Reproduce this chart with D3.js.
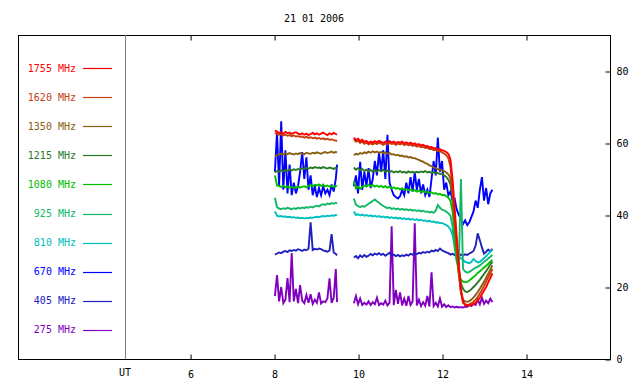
<!DOCTYPE html>
<html>
<head>
<meta charset="utf-8">
<script src="https://cdn.jsdelivr.net/npm/d3@7"></script>
<style>
  html, body { margin: 0; padding: 0; background: #fff; }
  svg { display: block; }
  text { font-family: "DejaVu Sans Mono", "Liberation Mono", monospace; font-size: 10px; }
</style>
</head>
<body>
<svg id="chart" width="640" height="384"></svg>
<script>
// ---------------- DATA ----------------
const title = "21 01 2006";
const xTicks = [6, 8, 10, 12, 14];
const yTicks = [0, 20, 40, 60, 80];
const freqs = ["1755", "1620", "1350", "1215", "1080", "925", "810", "670", "405", "275"];
const colors = ["#ff0000", "#c44010", "#886010", "#287828", "#00c000", "#10b868", "#00c0c0", "#0000ff", "#2020c0", "#8000c0"];

const times1 = [8.02,8.07,8.12,8.17,8.22,8.27,8.32,8.37,8.42,8.47,8.52,8.57,8.62,8.67,8.72,8.77,8.82,8.87,8.92,8.97,9.02,9.07,9.12,9.17,9.22,9.27,9.32,9.37,9.42,9.47,9.50];
const times2 = [9.90,9.95,10.00,10.05,10.10,10.15,10.20,10.25,10.30,10.35,10.40,10.45,10.50,10.55,10.60,10.65,10.70,10.75,10.80,10.85,10.90,10.95,11.00,11.05,11.10,11.15,11.20,11.25,11.30,11.35,11.40,11.45,11.50,11.55,11.60,11.65,11.70,11.75,11.80,11.85,11.90,11.95,12.00,12.05,12.10,12.15,12.20,12.25,12.30,12.35,12.40,12.45,12.50,12.55,12.60,12.65,12.70,12.75,12.80,12.85,12.90,12.95,13.00,13.05,13.10,13.15,13.20];

const f1755a = [63.5,63.2,62.8,63.0,62.6,63.1,62.7,62.9,62.5,62.8,63.0,62.6,62.4,62.7,62.3,62.6,62.2,62.5,62.8,62.4,62.7,62.3,62.6,62.9,62.5,62.2,62.7,62.4,62.8,62.5,62.3];
const f1755b = [61.5,60.8,61.2,60.5,60.9,60.3,60.6,60.0,60.4,60.1,60.5,60.2,60.6,60.3,60.0,60.4,60.1,60.5,60.2,60.4,60.0,60.3,60.1,60.4,59.9,60.2,59.8,60.1,59.7,59.9,59.5,59.7,59.3,59.5,59.1,59.2,58.8,58.9,58.5,58.6,58.2,58.3,58.0,57.8,57.5,57.0,55.5,50.0,42.0,34.0,26.0,19.5,16.0,15.0,14.8,14.9,15.0,15.3,15.6,16.2,17.0,18.0,19.0,20.0,21.3,22.5,23.8];

const f1620a = [62.8,62.5,62.3,62.4,62.1,62.3,62.0,62.2,61.9,62.1,61.8,61.9,61.7,61.8,61.5,61.7,61.4,61.6,61.3,61.5,61.2,61.4,61.1,61.3,61.0,61.2,60.9,61.0,60.8,60.7,60.5];
const f1620b = [61.0,60.4,60.6,60.0,60.4,59.8,60.1,59.6,59.9,59.6,60.0,59.7,60.1,59.8,59.5,59.9,59.6,60.0,59.7,59.9,59.5,59.8,59.6,59.9,59.4,59.7,59.3,59.6,59.2,59.4,59.0,59.2,58.8,59.0,58.6,58.7,58.3,58.4,58.0,58.1,57.7,57.8,57.4,57.1,56.6,55.8,53.5,47.0,39.0,31.0,24.0,18.5,15.6,15.2,15.0,15.2,15.5,15.9,16.5,17.2,18.2,19.2,20.3,21.5,22.7,23.8,25.0];

const f1350a = [56.3,56.6,56.9,57.0,56.8,57.1,56.9,57.2,57.0,56.8,57.1,56.9,57.2,57.0,56.9,57.3,57.1,57.0,57.3,57.1,57.4,57.2,57.0,57.3,57.5,57.2,57.4,57.6,57.3,57.5,57.4];
const f1350b = [56.6,57.0,56.8,57.2,57.0,57.4,57.2,57.6,57.3,57.7,57.4,57.6,57.3,57.5,57.2,57.4,57.0,57.2,56.8,56.9,56.6,56.7,56.4,56.5,56.2,56.3,56.0,56.1,55.8,55.8,55.5,55.3,55.0,54.8,54.4,54.2,53.8,53.6,53.2,53.0,52.7,52.6,52.4,52.2,51.8,51.3,50.2,46.0,39.0,31.0,24.0,18.5,16.5,16.0,15.9,16.1,16.5,17.1,17.8,18.6,19.5,20.5,21.5,22.6,23.7,24.8,26.0];

const f1215a = [51.8,52.2,52.0,52.4,52.1,52.5,52.3,52.6,52.4,52.7,52.5,52.8,52.6,53.0,52.8,53.1,52.9,53.2,53.0,53.3,53.1,53.2,53.0,53.3,53.1,52.9,53.2,53.0,52.8,53.1,52.9];
const f1215b = [53.2,52.6,53.0,52.4,52.8,52.2,52.6,52.1,52.5,52.0,52.4,52.1,52.5,52.2,52.6,52.0,52.3,51.9,52.2,51.8,52.1,51.9,52.2,51.8,52.0,51.7,52.1,51.8,52.0,51.7,52.0,51.8,52.1,51.9,52.2,51.8,52.0,51.7,51.9,51.6,51.7,51.4,51.5,51.0,50.6,49.8,48.5,45.0,38.0,31.0,25.0,21.0,19.5,18.8,18.6,18.9,19.4,20.0,20.6,21.3,22.0,22.8,23.6,24.4,25.3,26.2,27.0];

const f1080a = [51.0,48.2,48.0,47.8,48.1,47.7,47.9,47.6,47.8,47.5,47.7,47.9,47.6,47.8,48.0,47.7,48.1,48.3,48.0,48.4,48.2,48.5,48.1,48.3,48.0,48.2,47.9,48.1,47.8,48.0,48.2];
const f1080b = [49.5,47.4,47.9,47.3,47.8,48.2,47.9,48.4,48.0,48.3,47.9,48.2,47.8,48.1,47.7,48.0,47.6,47.9,47.4,47.7,47.3,47.5,47.1,47.4,47.0,47.2,46.9,47.1,46.7,46.9,46.5,46.8,46.4,46.6,46.3,46.5,46.1,46.3,45.9,46.1,45.7,45.9,45.5,45.6,45.2,44.8,44.0,41.0,35.0,28.0,23.5,22.0,21.5,21.3,21.4,21.8,22.3,22.8,23.3,23.9,24.4,24.9,25.4,25.9,26.4,27.0,27.5];

const f925a = [44.8,42.2,41.8,41.6,41.9,41.7,42.0,41.8,41.6,41.9,41.7,42.0,41.8,42.1,41.9,42.2,42.0,42.3,42.1,42.4,42.6,42.4,42.8,43.0,42.8,43.2,43.0,43.3,43.1,43.4,43.2];
const f925b = [44.6,42.8,42.5,42.2,42.5,42.3,42.7,43.1,43.5,43.9,44.3,43.8,43.4,42.9,42.5,42.2,41.9,42.1,41.7,41.9,41.6,41.8,41.5,41.7,41.4,41.6,41.3,41.5,41.2,41.4,41.1,41.3,41.0,41.2,40.9,41.0,40.7,40.9,40.6,41.2,42.8,42.0,41.5,41.3,40.9,40.5,39.8,37.0,31.0,27.0,25.5,50.0,25.0,24.3,24.0,24.2,24.6,25.0,25.4,25.6,26.0,26.5,27.0,27.4,27.9,28.4,28.9];

const f810a = [41.0,39.8,39.6,39.7,39.5,39.6,39.4,39.5,39.3,39.4,39.2,39.3,39.1,39.2,39.0,39.2,39.1,39.3,39.2,39.4,39.5,39.4,39.6,39.7,39.6,39.8,39.7,39.9,39.8,40.0,39.9];
const f810b = [41.0,40.0,40.2,39.9,40.1,39.8,40.0,39.7,39.9,39.6,39.8,39.5,39.7,39.4,39.6,39.3,39.5,39.2,39.4,39.1,39.3,39.0,39.2,38.9,39.1,38.8,39.0,38.7,38.9,38.6,38.8,38.5,38.7,38.4,38.5,38.2,38.4,38.1,38.2,37.9,38.0,37.7,37.8,37.5,37.2,36.8,36.0,34.5,31.5,29.5,28.5,28.0,27.5,27.0,26.8,26.6,27.0,27.8,27.2,26.8,27.0,27.5,28.0,28.6,29.2,29.8,30.3];

const f670a = [52,63,48,66,47,58,46,54,45.5,49,46,48,52,57.5,50,56,47,51,45.5,48,45,47.5,45.5,48,46,47,45.5,48.5,46.5,50,54];
const f670b = [48,51,46,54.8,47,52,48,53,47.5,50,55,51,57.5,52,58,50,62.3,49,47,45.5,45.0,44.6,45.2,47,45.5,49,46,50.5,46.5,52,47,50,46,48.5,45.5,47,45,50,55,51,61.5,52,55,47,49,45.5,46.5,44,44.5,41.5,40,39,37.5,38.5,37.2,38,39.5,41,44,42,47,50.5,44,47.5,43,46,47];

const f405a = [29.0,29.3,29.6,29.4,29.8,30.0,29.7,30.2,30.0,30.3,30.1,30.5,30.3,30.0,30.4,30.2,30.6,38.0,30.3,30.6,30.4,30.7,30.5,30.2,30.0,29.8,30.1,34.7,29.6,29.2,28.8];
const f405b = [28.2,28.6,28.0,28.8,28.3,28.9,28.4,28.7,29.2,28.8,29.3,29.0,29.4,28.9,29.2,28.7,29.1,29.5,28.8,29.0,28.6,28.9,28.5,28.8,28.6,29.0,28.7,29.2,29.0,29.4,29.1,29.5,29.3,29.7,29.5,29.8,29.6,30.1,29.9,30.3,30.0,30.7,30.2,29.9,29.6,29.4,29.0,29.2,28.9,29.1,28.8,29.0,28.7,29.1,28.9,29.3,29.6,30.0,31.5,34.9,33.0,31.0,29.3,29.8,30.4,29.9,30.6];

const f275a = [17.5,23.3,16.0,20.0,15.5,16.5,22.5,15.8,29.4,16.0,19.5,15.5,20.5,16.2,15.5,17.8,15.6,18.0,15.3,16.5,15.6,18.5,15.4,16.0,15.8,16.8,22.4,15.6,17.0,25.0,15.8];
const f275b = [15.5,17.5,15.2,16.8,15.0,15.6,15.1,16.0,15.0,15.8,15.2,17.0,15.0,15.5,15.1,16.2,14.9,15.6,36.9,15.0,19.2,15.3,18.5,14.9,16.8,14.8,17.5,15.0,16.0,37.7,14.9,16.5,14.7,15.8,14.8,17.5,14.6,24.1,14.7,15.6,14.6,16.8,14.5,15.2,14.4,14.9,14.4,14.6,14.3,14.5,14.3,14.4,14.3,14.6,14.5,15.0,14.7,15.3,15.0,16.5,15.2,17.0,15.3,16.2,15.5,16.8,15.8];

const seriesA = [f1755a, f1620a, f1350a, f1215a, f1080a, f925a, f810a, f670a, f405a, f275a];
const seriesB = [f1755b, f1620b, f1350b, f1215b, f1080b, f925b, f810b, f670b, f405b, f275b];

// ---------------- CHART ----------------
const svg = d3.select("#chart");
const frame = {left: 18, top: 35, right: 610, bottom: 359};
const divX = 125;

const x = d3.scaleLinear().domain([4.45, 16]).range([divX, frame.right]);
const y = d3.scaleLinear().domain([0, 90]).range([frame.bottom, frame.top]);

// title
svg.append("text")
  .attr("x", 314).attr("y", 22)
  .attr("text-anchor", "middle")
  .attr("fill", "#000")
  .text(title);

// data lines (low frequencies drawn first)
const line = d3.line().x(d => x(d[0])).y(d => y(d[1]));
const dataG = svg.append("g");
for (let k = freqs.length - 1; k >= 0; k--) {
  [[times1, seriesA[k]], [times2, seriesB[k]]].forEach(([ts, vs]) => {
    const pts = d3.zip(ts, vs);
    dataG.append("path")
      .datum(pts)
      .attr("d", line)
      .attr("fill", "none")
      .attr("stroke", colors[k])
      .attr("stroke-width", 1.9)
      .attr("stroke-linejoin", "miter");
  });
}

// frame
svg.append("rect")
  .attr("x", frame.left + 0.5).attr("y", frame.top + 0.5)
  .attr("width", frame.right - frame.left).attr("height", frame.bottom - frame.top)
  .attr("fill", "none").attr("stroke", "#000").attr("stroke-width", 1);

// divider
svg.append("line")
  .attr("x1", divX + 0.5).attr("x2", divX + 0.5)
  .attr("y1", frame.top).attr("y2", frame.bottom)
  .attr("stroke", "#808080").attr("stroke-width", 1);

// axes
const bottomAxis = d3.axisBottom(x).tickValues(xTicks).tickSizeInner(-5).tickSizeOuter(0).tickPadding(11).tickFormat(d3.format("d"));
const gB = svg.append("g").attr("transform", `translate(0.5,${frame.bottom + 0.5})`).call(bottomAxis);
const topAxis = d3.axisTop(x).tickValues(xTicks).tickSizeInner(-5).tickSizeOuter(0).tickFormat("");
const gT = svg.append("g").attr("transform", `translate(0.5,${frame.top + 0.5})`).call(topAxis);
const rightAxis = d3.axisRight(y).tickValues(yTicks).tickSizeInner(-5).tickSizeOuter(0).tickPadding(6).tickFormat(d3.format("d"));
const gR = svg.append("g").attr("transform", `translate(${frame.right + 0.5},0.5)`).call(rightAxis);
[gB, gT, gR].forEach(g => {
  g.select(".domain").remove();
  g.selectAll("text").attr("font-family", null).attr("font-size", null).attr("fill", "#000");
  g.selectAll("line").attr("stroke", "#000");
});

// UT label
svg.append("text")
  .attr("x", divX).attr("y", 376)
  .attr("text-anchor", "middle").attr("fill", "#000")
  .text("UT");

// legend
const legend = svg.append("g");
freqs.forEach((f, i) => {
  const ly = 68 + i * 29.1;
  legend.append("text")
    .attr("x", 76).attr("y", ly).attr("dy", "0.35em")
    .attr("text-anchor", "end").attr("fill", colors[i])
    .text(f + " MHz");
  legend.append("line")
    .attr("x1", 83).attr("x2", 112)
    .attr("y1", Math.round(ly) + 0.5).attr("y2", Math.round(ly) + 0.5)
    .attr("stroke", colors[i]).attr("stroke-width", 1.2);
});
</script>
</body>
</html>
